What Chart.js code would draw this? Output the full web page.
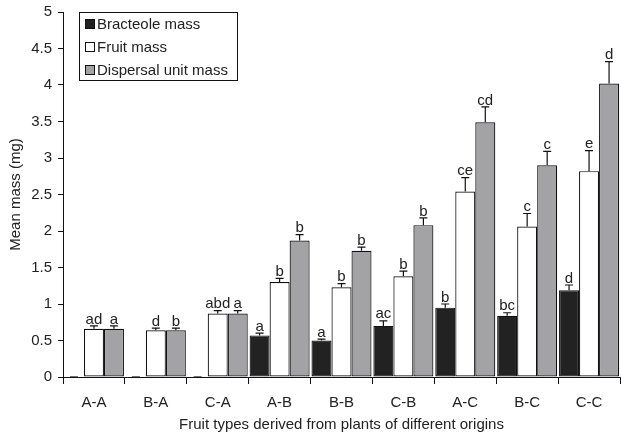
<!DOCTYPE html>
<html><head><meta charset="utf-8">
<script src="https://cdn.jsdelivr.net/npm/chart.js@4"></script>
<style>html,body{margin:0;padding:0;background:#fff}#wrap{width:621px;height:439px}</style>
</head><body><div id="wrap"><canvas id="c"></canvas></div>
<script>
const categories = ["A-A", "B-A", "C-A", "A-B", "B-B", "C-B", "A-C", "B-C", "C-C"];
const bracteoleMass = [0, 0, 0, 0.57, 0.50, 0.70, 0.95, 0.84, 1.19];
const fruitMass = [0.66, 0.64, 0.87, 1.30, 1.23, 1.38, 2.54, 2.06, 2.82];
const dispersalMass = [0.66, 0.64, 0.87, 1.87, 1.73, 2.08, 3.49, 2.90, 4.02];
const bracteoleErr = [0, 0, 0, 0.03, 0.02, 0.07, 0.05, 0.04, 0.07];
const fruitErr = [0.04, 0.03, 0.04, 0.05, 0.05, 0.07, 0.19, 0.18, 0.28];
const dispersalErr = [0.04, 0.03, 0.04, 0.08, 0.05, 0.10, 0.21, 0.19, 0.30];
const bracteoleLetters = ["", "", "", "a", "a", "ac", "b", "bc", "d"];
const fruitLetters = ["ad", "d", "abd", "b", "b", "b", "ce", "c", "e"];
const dispersalLetters = ["a", "b", "a", "b", "b", "b", "cd", "c", "d"];

const FONT = "'Liberation Sans', Arial, sans-serif";
Chart.defaults.font.family = FONT;
Chart.defaults.font.size = 15;
Chart.defaults.color = "#222";

// error bars + significance letters
const errorBars = {
    id: "errorBars",
    afterDatasetsDraw(chart) {
        const ctx = chart.ctx;
        const y = chart.scales.y;
        ctx.save();
        ctx.strokeStyle = "#111";
        ctx.lineWidth = 1.2;
        ctx.fillStyle = "#222";
        ctx.font = "15px " + FONT;
        ctx.textAlign = "center";
        ctx.textBaseline = "bottom";
        chart.data.datasets.forEach((ds, i) => {
            chart.getDatasetMeta(i).data.forEach((bar, j) => {
                const top = y.getPixelForValue(ds.data[j]);
                const cap = y.getPixelForValue(ds.data[j] + ds.err[j]);
                ctx.beginPath();
                ctx.moveTo(bar.x, top);
                ctx.lineTo(bar.x, cap);
                ctx.moveTo(bar.x - 4, cap);
                ctx.lineTo(bar.x + 4, cap);
                ctx.stroke();
                if (ds.letters[j]) ctx.fillText(ds.letters[j], bar.x, cap + 1);
            });
        });
        ctx.restore();
    }
};

// legend drawn inside the plot area
const innerLegend = {
    id: "innerLegend",
    afterDraw(chart) {
        const ctx = chart.ctx;
        const x0 = chart.chartArea.left + 16, y0 = chart.chartArea.top;
        ctx.save();
        ctx.fillStyle = "#fff";
        ctx.fillRect(x0, y0, 158, 68);
        ctx.strokeStyle = "#111";
        ctx.lineWidth = 1;
        ctx.strokeRect(x0 + 0.5, y0 + 0.5, 158, 68);
        ctx.font = "15px " + FONT;
        ctx.textBaseline = "middle";
        chart.data.datasets.forEach((ds, i) => {
            const cy = y0 + 12 + i * 23;
            ctx.fillStyle = ds.backgroundColor;
            ctx.fillRect(x0 + 6, cy - 5, 10, 10);
            ctx.strokeRect(x0 + 6.5, cy - 4.5, 9, 9);
            ctx.fillStyle = "#222";
            ctx.fillText(ds.label, x0 + 18, cy + 1);
        });
        ctx.restore();
    }
};

new Chart(document.getElementById("c"), {
    type: "bar",
    data: {
        labels: categories,
        datasets: [
            {label: "Bracteole mass", data: bracteoleMass, err: bracteoleErr, letters: bracteoleLetters, backgroundColor: "#222222"},
            {label: "Fruit mass", data: fruitMass, err: fruitErr, letters: fruitLetters, backgroundColor: "#ffffff"},
            {label: "Dispersal unit mass", data: dispersalMass, err: dispersalErr, letters: dispersalLetters, backgroundColor: "#a3a3a6"},
        ].map(d => Object.assign(d, {borderColor: "#111", borderWidth: 1.2, borderSkipped: false,
            barPercentage: 1, categoryPercentage: 0.97}))
    },
    options: {
        responsive: true,
        maintainAspectRatio: false,
        animation: false,
        layout: {padding: {left: 0, right: 1, top: 12, bottom: 0}},
        plugins: {legend: {display: false}, tooltip: {enabled: false}},
        scales: {
            x: {
                grid: {drawOnChartArea: false, tickLength: 7, color: "#111"},
                border: {color: "#111", width: 1},
                ticks: {padding: 10, maxRotation: 0},
                title: {display: true, text: "Fruit types derived from plants of different origins", padding: {top: 4, bottom: 5}},
                afterFit(s) { s.height = 62; s.paddingLeft = 0; s.paddingRight = 0; }
            },
            y: {
                min: 0, max: 5,
                grid: {drawOnChartArea: false, tickLength: 5, color: "#111"},
                border: {color: "#111", width: 1},
                ticks: {stepSize: 0.5, padding: 6, callback: v => String(+v.toFixed(1))},
                title: {display: true, text: "Mean mass (mg)", padding: {top: 7, bottom: 4}},
                afterFit(s) { s.width = 63; s.paddingTop = 0; s.paddingBottom = 0; }
            }
        }
    },
    plugins: [errorBars, innerLegend]
});
</script>
</body></html>
